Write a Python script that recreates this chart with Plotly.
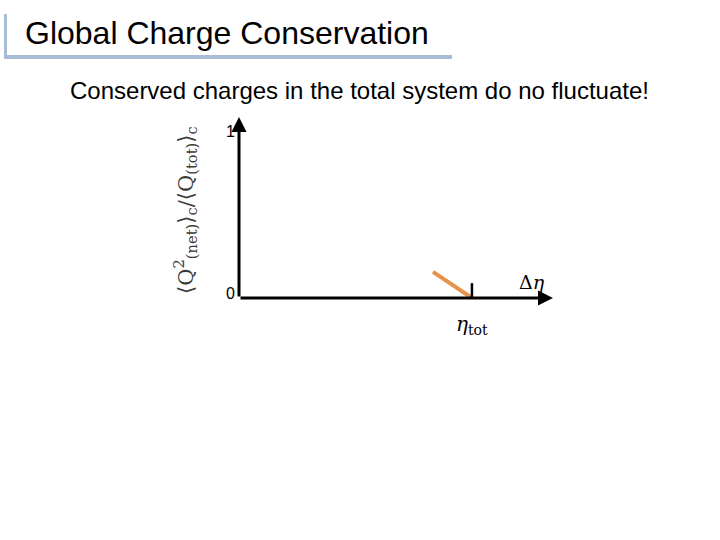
import plotly.graph_objects as go

# ---- data ----
curve_x = [0.833, 1.0]          # fluctuation curve (Δη in units of η_tot)
curve_y = [0.158, 0.0]
tick_vals_y = [0, 1]
tick_text_y = ["0", "1"]
eta_tot = 1.0
x_max = 1.348
y_max = 1.097

title_text = "Global Charge Conservation"
subtitle_text = "Conserved charges in the total system do no fluctuate!"
ylabel_text = "⟨Q<sup>2</sup><sub>(net)</sub>⟩<sub>c</sub>/⟨Q<sub>(tot)</sub>⟩<sub>c</sub>"

# plot-area pixel geometry
L, R, T, B = 239, 553, 117, 298
W, H = 720, 540

def px(x):
    return (x - L) / (R - L)

def py(y):
    return (B - y) / (B - T)

fig = go.Figure()
fig.add_trace(go.Scatter(x=curve_x, y=curve_y, mode="lines",
                         line=dict(color="#e8914a", width=4), hoverinfo="skip",
                         showlegend=False))

shapes = [
    # title decoration bars
    dict(type="line", xref="paper", yref="paper", x0=px(5.5), x1=px(5.5), y0=py(14), y1=py(58),
         line=dict(color="#a9bcd5", width=3)),
    dict(type="line", xref="paper", yref="paper", x0=px(4), x1=px(452), y0=py(57), y1=py(57),
         line=dict(color="#a9bcd5", width=4)),
    # eta_tot tick
    dict(type="line", xref="x", yref="y", x0=eta_tot, x1=eta_tot, y0=0, y1=0.09,
         line=dict(color="black", width=2.5)),
]

annotations = [
    # axes arrows
    dict(x=x_max, y=0, ax=0, ay=0, xref="x", yref="y", axref="x", ayref="y",
         showarrow=True, arrowhead=2, arrowsize=1, arrowwidth=3, arrowcolor="black", text=""),
    dict(x=0, y=y_max, ax=0, ay=0, xref="x", yref="y", axref="x", ayref="y",
         showarrow=True, arrowhead=2, arrowsize=1, arrowwidth=3, arrowcolor="black", text=""),
    # texts
    dict(x=px(23), y=py(33), xref="paper", yref="paper", xanchor="left", yanchor="middle",
         text=title_text, showarrow=False, font=dict(family="Liberation Sans", size=32, color="black")),
    dict(x=px(68), y=py(91), xref="paper", yref="paper", xanchor="left", yanchor="middle",
         text=subtitle_text, showarrow=False, font=dict(family="Liberation Sans", size=24, color="black")),
    dict(x=px(185), y=py(210), xref="paper", yref="paper", xanchor="center", yanchor="middle",
         text=ylabel_text, textangle=-90, showarrow=False,
         font=dict(family="DejaVu Serif", size=21, color="#3a3a3a")),
    dict(x=x_max, y=0, xref="x", yref="y", xshift=-21, yshift=16, xanchor="center", yanchor="middle",
         text="Δ<i>η</i>", showarrow=False, font=dict(family="DejaVu Serif", size=19, color="black")),
    dict(x=eta_tot, y=0, xref="x", yref="y", yshift=-27, xanchor="center", yanchor="middle",
         text="<i>η</i><sub>tot</sub>", showarrow=False, font=dict(family="DejaVu Serif", size=20, color="black")),
]
for v, t in zip(tick_vals_y, tick_text_y):
    annotations.append(dict(x=0, y=v, xref="x", yref="y", xshift=-9, yshift=5 if v == 0 else 2,
                            xanchor="center", yanchor="middle", text=t, showarrow=False,
                            font=dict(family="Liberation Sans", size=16, color="black")))

fig.update_layout(
    width=W, height=H,
    margin=dict(l=L, r=W - R, t=T, b=H - B, pad=0),
    paper_bgcolor="white", plot_bgcolor="white",
    xaxis=dict(range=[0, x_max], visible=False, fixedrange=True),
    yaxis=dict(range=[0, y_max], visible=False, fixedrange=True),
    shapes=shapes, annotations=annotations, showlegend=False,
)
fig.write_html("out.html", config={"displayModeBar": False},
               post_script="document.body.style.margin='0';")
